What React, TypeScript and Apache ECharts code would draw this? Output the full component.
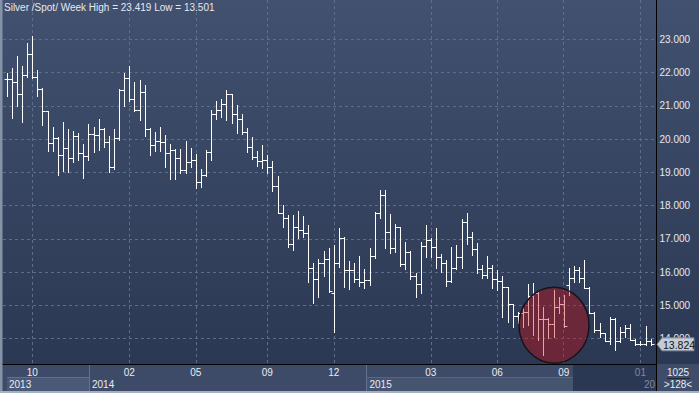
import React, { useEffect, useRef } from 'react';
import * as echarts from 'echarts';

const titleText = 'Silver /Spot/ Week High = 23.419 Low = 13.501';

const opens = [
  21.80, 21.80, 21.73, 21.35, 21.93, 22.56, 21.88, 21.51, 20.83, 19.88,
  20.02, 19.52, 19.72, 19.43, 20.10, 19.58, 19.48, 20.15, 20.13, 20.30,
  19.92, 19.15, 20.02, 21.48, 21.83, 21.20, 20.88, 21.42, 20.30, 19.83,
  19.95, 19.91, 19.57, 19.66, 19.44, 19.08, 19.30, 19.38, 18.71, 18.92,
  19.61, 20.76, 20.88, 21.06, 21.34, 20.76, 20.61, 20.21, 19.76, 19.46,
  19.33, 19.36, 19.16, 18.58, 17.79, 17.61, 16.83, 17.36, 17.26, 17.18,
  16.13, 15.78, 16.28, 16.39, 15.36, 16.26, 17.01, 16.06, 16.06, 15.79,
  15.70, 15.76, 16.48, 17.78, 18.31, 17.21, 16.71, 17.34, 16.23, 16.60,
  15.88, 15.63, 16.78, 16.96, 16.74, 16.44, 16.26, 15.74, 16.11, 16.44,
  17.51, 17.04, 16.69, 16.08, 15.91, 16.11, 15.80, 15.73, 15.54, 15.03,
  14.69, 14.76, 14.81, 15.29, 15.36, 14.59, 14.59, 14.43, 14.96, 15.05,
  15.60, 15.83, 16.06, 15.81, 15.53, 14.78, 14.26, 14.16, 13.93, 14.59,
  13.91, 14.19, 14.31, 13.96, 13.84, 13.84, 13.93,
];

const highs = [
  22.00, 22.13, 22.50, 22.21, 22.88, 23.10, 22.08, 21.53, 20.85, 20.36,
  20.05, 20.51, 20.31, 20.23, 20.18, 19.85, 20.45, 20.35, 20.60, 20.32,
  20.10, 20.30, 21.50, 21.98, 22.20, 21.73, 21.78, 21.63, 20.32, 20.21,
  20.35, 20.11, 19.86, 19.71, 19.71, 19.93, 19.74, 19.56, 19.11, 19.66,
  20.88, 21.13, 21.21, 21.48, 21.36, 21.01, 20.76, 20.34, 20.06, 19.63,
  19.81, 19.51, 19.33, 18.88, 18.01, 17.71, 17.71, 17.83, 17.68, 17.41,
  16.26, 16.38, 16.63, 16.71, 16.81, 17.31, 17.05, 16.33, 16.28, 16.48,
  16.08, 16.71, 17.81, 18.48, 18.46, 17.74, 17.44, 17.36, 16.91, 16.62,
  15.98, 16.91, 17.41, 17.01, 17.31, 16.54, 16.36, 16.76, 16.81, 17.58,
  17.76, 17.21, 16.86, 16.21, 16.48, 16.21, 16.06, 15.89, 15.56, 15.05,
  14.80, 14.96, 15.63, 15.66, 15.41, 14.96, 14.63, 15.46, 15.26, 15.31,
  16.13, 16.19, 16.16, 16.36, 15.55, 14.80, 14.46, 14.18, 14.66, 14.63,
  14.36, 14.41, 14.43, 13.98, 13.93, 14.38, 13.99,
];

const lows = [
  21.28, 20.63, 20.98, 20.50, 21.86, 21.85, 21.28, 20.43, 19.63, 19.63,
  18.91, 19.03, 19.01, 19.31, 19.38, 18.83, 19.36, 19.60, 19.66, 19.76,
  19.00, 19.10, 19.98, 21.00, 21.15, 20.85, 20.58, 20.10, 19.53, 19.63,
  19.63, 19.16, 18.79, 18.81, 18.98, 18.98, 19.16, 18.54, 18.56, 18.89,
  19.36, 20.61, 20.66, 20.58, 20.48, 20.18, 20.14, 19.61, 19.41, 19.18,
  19.14, 18.98, 18.44, 17.78, 17.34, 16.74, 16.66, 17.01, 17.06, 15.71,
  15.06, 15.26, 15.88, 15.40, 14.21, 16.14, 15.54, 15.50, 15.71, 15.58,
  15.51, 15.61, 16.41, 17.61, 16.71, 16.56, 16.61, 16.18, 16.08, 15.78,
  15.26, 15.38, 16.46, 16.44, 16.11, 16.01, 15.58, 15.71, 16.08, 16.11,
  16.84, 16.51, 15.98, 15.81, 15.81, 15.51, 15.46, 14.66, 14.51, 14.36,
  14.46, 14.36, 14.41, 14.11, 13.96, 13.51, 14.01, 14.06, 14.76, 14.36,
  15.31, 15.69, 15.71, 15.51, 14.76, 14.19, 14.06, 13.91, 13.83, 13.66,
  13.88, 14.06, 13.94, 13.81, 13.79, 13.81, 13.81,
];

const closes = [
  21.80, 21.73, 21.35, 21.93, 22.56, 21.88, 21.51, 20.83, 19.88, 20.02,
  19.52, 19.72, 19.43, 20.10, 19.58, 19.48, 20.15, 20.13, 20.30, 19.92,
  19.15, 20.02, 21.48, 21.83, 21.20, 20.88, 21.42, 20.30, 19.83, 19.95,
  19.91, 19.57, 19.66, 19.44, 19.08, 19.30, 19.38, 18.71, 18.92, 19.61,
  20.76, 20.88, 21.06, 21.34, 20.76, 20.61, 20.21, 19.76, 19.46, 19.33,
  19.36, 19.16, 18.58, 17.79, 17.61, 16.83, 17.36, 17.26, 17.18, 16.13,
  15.78, 16.28, 16.39, 15.43, 16.26, 17.01, 16.06, 16.06, 15.79, 15.70,
  15.76, 16.48, 17.78, 18.31, 17.21, 16.71, 17.34, 16.23, 16.60, 15.88,
  15.63, 16.78, 16.96, 16.74, 16.44, 16.26, 15.74, 16.11, 16.44, 17.51,
  17.04, 16.69, 16.08, 15.91, 16.11, 15.80, 15.73, 15.54, 15.03, 14.69,
  14.76, 14.81, 15.29, 15.36, 14.59, 14.59, 14.43, 14.96, 15.05, 14.38,
  15.83, 16.06, 15.81, 15.53, 14.78, 14.26, 14.16, 13.93, 14.59, 13.91,
  14.19, 14.31, 13.96, 13.84, 13.84, 13.93, 13.824,
];

const monthTickIndex = [5, 24, 37, 51, 64, 83, 96, 109, 124];
const monthTickLabel = ['10', '02', '05', '09', '12', '03', '06', '09', '01'];
const dimMonthFrom = 124;
const yTicks = [14, 15, 16, 17, 18, 19, 20, 21, 22, 23];
const yearStartIndex = [-0.45, 16.1, 70.4, 124.4];
const yearLabel = ['2013', '2014', '2015', '20'];
const highlightCenter = [107.1, 14.4];
const panelTopText = '1025';
const panelBottomText = '>128<';

const X_MIN = -0.72;
const X_MAX = 127.15;
const Y_MIN = 13.233;
const Y_MAX = 24.182;

export default function App() {
  const ref = useRef<HTMLDivElement>(null);

  useEffect(() => {
    if (!ref.current) return;
    const chart = echarts.init(ref.current, null, { renderer: 'svg' });
    const font = 'Liberation Sans, Arial, sans-serif';
    const data = highs.map((h, i) => [i, opens[i], h, lows[i], closes[i]]);
    const lastClose = closes[closes.length - 1];

    chart.setOption({
      animation: false,
      backgroundColor: new echarts.graphic.LinearGradient(0, 0, 0, 1, [
        { offset: 0, color: '#41516f' },
        { offset: 0.93, color: '#2b3853' },
        { offset: 1, color: '#2b3853' },
      ]),
      title: {
        text: titleText,
        left: 4,
        top: 2,
        padding: 0,
        textStyle: { color: '#e6e9ef', fontSize: 10, fontWeight: 'normal', fontFamily: font },
      },
      grid: { left: 3, top: 0, width: 653.5, height: 364 },
      xAxis: {
        type: 'value',
        min: X_MIN,
        max: X_MAX,
        axisLine: { show: false },
        axisTick: { show: false, customValues: monthTickIndex },
        axisLabel: {
          customValues: monthTickIndex,
          margin: 3,
          fontSize: 10,
          fontFamily: font,
          color: (v: any) => (Number(v) >= dimMonthFrom ? '#7d89a0' : '#e8ebf1'),
          formatter: (v: number) => {
            const k = monthTickIndex.indexOf(Math.round(v));
            return k >= 0 ? monthTickLabel[k] : '';
          },
        },
        splitLine: { show: true, lineStyle: { color: '#5d6d8d', type: [3, 3], width: 1 } },
      },
      yAxis: {
        type: 'value',
        position: 'right',
        min: Y_MIN,
        max: Y_MAX,
        axisLine: { show: false },
        axisTick: { show: false, customValues: yTicks },
        axisLabel: {
          customValues: yTicks,
          margin: 3,
          fontSize: 10,
          fontFamily: font,
          color: '#e6e9ef',
          formatter: (v: number) => v.toFixed(3),
        },
        splitLine: { show: true, lineStyle: { color: '#5d6d8d', type: [3, 3], width: 1 } },
      },
      series: [
        {
          type: 'custom',
          clip: true,
          data,
          encode: { x: 0, y: [1, 2, 3, 4] },
          renderItem: (params: any, api: any) => {
            const i = api.value(0);
            const o = api.coord([i, api.value(1)]);
            const h = api.coord([i, api.value(2)]);
            const l = api.coord([i, api.value(3)]);
            const c = api.coord([i, api.value(4)]);
            const x = Math.round(o[0]) + 0.5;
            const oy = Math.round(o[1]) + 0.5;
            const cy = Math.round(c[1]) + 0.5;
            const style = { stroke: '#ffffff', lineWidth: 1 };
            return {
              type: 'group',
              children: [
                { type: 'line', shape: { x1: x, y1: Math.round(h[1]), x2: x, y2: Math.round(l[1]) + 1 }, style },
                { type: 'line', shape: { x1: x - 3, y1: oy, x2: x, y2: oy }, style },
                { type: 'line', shape: { x1: x, y1: cy, x2: x + 3, y2: cy }, style },
              ],
            };
          },
        },
      ],
    });

    const px = (i: number, v: number) => chart.convertToPixel({ gridIndex: 0 }, [i, v]) as number[];
    const tagY = px(0, lastClose)[1];
    const hc = px(highlightCenter[0], highlightCenter[1]);
    const yearX = yearStartIndex.map((i) => Math.max(px(i, 14)[0], 3));

    const graphics: any[] = [
      { type: 'rect', z: -20, silent: true, shape: { x: 0, y: 364, width: 699, height: 29 }, style: { fill: '#3d4b68' } },
      { type: 'rect', z: -19, silent: true, shape: { x: 7, y: 377, width: 82, height: 14 }, style: { fill: '#4a5977' } },
      { type: 'line', z: -18, silent: true, shape: { x1: 7, y1: 377.5, x2: 89, y2: 377.5 }, style: { stroke: '#5f6f8d', lineWidth: 1 } },
      { type: 'rect', z: -19, silent: true, shape: { x: 366, y: 377, width: 290, height: 14 }, style: { fill: '#45546f' } },
      { type: 'line', z: -18, silent: true, shape: { x1: 366, y1: 377.5, x2: 656, y2: 377.5 }, style: { stroke: '#56668a', lineWidth: 1 } },
      { type: 'rect', z: -17, silent: true, shape: { x: 573, y: 365, width: 83, height: 26 }, style: { fill: '#2b3853' } },
      { type: 'line', z: -16, silent: true, shape: { x1: 89.5, y1: 365, x2: 89.5, y2: 391 }, style: { stroke: '#62728f', lineWidth: 1 } },
      { type: 'line', z: -16, silent: true, shape: { x1: 366.5, y1: 365, x2: 366.5, y2: 391 }, style: { stroke: '#62728f', lineWidth: 1 } },
      { type: 'rect', z: -16, silent: true, shape: { x: 657, y: 365, width: 42, height: 26 }, style: { fill: '#3f4d6a' } },
      { type: 'rect', z: 50, silent: true, shape: { x: 0, y: 0, width: 2.5, height: 393 }, style: { fill: '#8692a6' } },
      { type: 'rect', z: 50, silent: true, shape: { x: 0, y: 391, width: 699, height: 2 }, style: { fill: '#a7b0be' } },
      { type: 'line', z: 40, silent: true, shape: { x1: 2, y1: 364.5, x2: 657, y2: 364.5 }, style: { stroke: '#000000', lineWidth: 1 } },
      { type: 'line', z: 40, silent: true, shape: { x1: 656.5, y1: 0, x2: 656.5, y2: 391 }, style: { stroke: '#000000', lineWidth: 1 } },
      { type: 'text', z: 40, silent: true, style: { x: 678, y: 372, text: panelTopText, fill: '#e8ebf1', fontSize: 10, fontFamily: font, align: 'center', verticalAlign: 'middle' } },
      { type: 'line', z: 40, silent: true, shape: { x1: 667, y1: 378.5, x2: 690, y2: 378.5 }, style: { stroke: '#1f283b', lineWidth: 1 } },
      { type: 'text', z: 40, silent: true, style: { x: 678, y: 384.5, text: panelBottomText, fill: '#e8ebf1', fontSize: 10, fontFamily: font, align: 'center', verticalAlign: 'middle' } },
      {
        type: 'ellipse', z: 30, silent: true,
        shape: { cx: hc[0], cy: hc[1], rx: 35, ry: 38 },
        style: { fill: 'rgba(210,10,14,0.38)', stroke: '#14141a', lineWidth: 1.5 },
      },
      {
        type: 'polygon', z: 45, silent: true,
        shape: { points: [[657, tagY], [662, tagY - 6.5], [694, tagY - 6.5], [694, tagY + 6.5], [662, tagY + 6.5]] },
        style: { fill: '#c6cbd4', stroke: '#7c8494', lineWidth: 1 },
      },
      { type: 'text', z: 46, silent: true, style: { x: 663, y: tagY + 0.5, text: lastClose.toFixed(3), fill: '#10141c', fontSize: 10.5, fontFamily: font, verticalAlign: 'middle' } },
    ];
    yearLabel.forEach((t, k) => {
      const dim = yearStartIndex[k] >= dimMonthFrom;
      graphics.push({
        type: 'text', z: 40, silent: true,
        style: {
          x: k === 0 ? 9 : dim ? 655 : yearX[k] + 3,
          y: 384,
          text: t,
          fill: dim ? '#7d89a0' : '#e8ebf1',
          fontSize: 10,
          fontFamily: font,
          align: dim ? 'right' : 'left',
          verticalAlign: 'middle',
        },
      });
    });
    chart.setOption({ graphic: graphics });

    return () => chart.dispose();
  }, []);

  return <div ref={ref} style={{ position: 'fixed', left: 0, top: 0, width: 699, height: 393 }} />;
}
